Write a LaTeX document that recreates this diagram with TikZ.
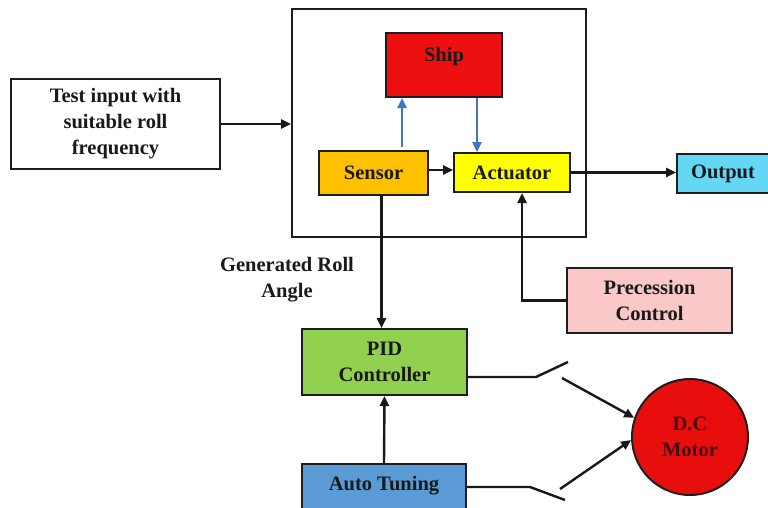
\documentclass[tikz,border=0pt]{standalone}
\usepackage{fontspec}
\setmainfont{Liberation Serif}
\usetikzlibrary{arrows.meta,calc}
\definecolor{shipred}{RGB}{238,16,16}
\definecolor{motorred}{RGB}{232,14,14}
\definecolor{sensorc}{RGB}{255,192,0}
\definecolor{actc}{RGB}{255,255,0}
\definecolor{outc}{RGB}{100,215,245}
\definecolor{precc}{RGB}{250,200,200}
\definecolor{pidc}{RGB}{146,208,80}
\definecolor{autoc}{RGB}{91,155,213}
\definecolor{bluearr}{RGB}{68,114,196}
\definecolor{edgec}{RGB}{30,30,30}
\definecolor{motortext}{RGB}{70,12,12}
\begin{document}
\begin{tikzpicture}[x=1pt,y=-1pt,
  every node/.style={font=\bfseries\fontsize{20.5}{26}\selectfont, text=black!90, align=center},
  box/.style={draw=edgec, line width=2pt, inner sep=0pt},
  conn/.style={draw=black!90, line width=2.4pt, -{Triangle[length=10pt,width=9pt]}},
  plainline/.style={draw=black!90, line width=2.4pt},
  bconn/.style={draw=bluearr, line width=2.4pt, -{Triangle[length=10pt,width=9pt]}}]
\useasboundingbox (0,0) rectangle (768,507);
\fill[white] (0,0) rectangle (768,507);

\node[box, minimum width=294pt, minimum height=228pt] (frame) at (439,123) {};
\node[box, fill=white, minimum width=209pt, minimum height=90pt] (test) at (115.5,124) {Test input with\\suitable roll\\frequency};
\node[box, fill=shipred, minimum width=116pt, minimum height=64pt, text depth=22pt] (ship) at (444,65) {Ship};
\node[box, fill=sensorc, minimum width=109pt, minimum height=44pt] (sensor) at (373.5,173) {Sensor};
\node[box, fill=actc, minimum width=116pt, minimum height=39pt] (act) at (512,172.5) {Actuator};
\node[box, fill=outc, minimum width=92pt, minimum height=39pt] (out) at (723,173.5) {Output};
\node[box, fill=pidc, minimum width=165pt, minimum height=66pt] (pid) at (384.5,362) {PID\\Controller};
\node[box, fill=autoc, minimum width=164pt, minimum height=52pt, text depth=14pt] (auto) at (384,490) {Auto Tuning};
\node[box, fill=precc, minimum width=165pt, minimum height=65pt] (prec) at (649.5,300.5) {Precession\\Control};
\node[box, fill=motorred, circle, minimum size=116pt, text=motortext] (motor) at (690,437) {D.C\\Motor};
\node (gra) at (287,280) {Generated Roll\\Angle};

\draw[conn] (test.east) -- (test.east -| frame.west);
\draw[bconn] ([xshift=28.5pt,yshift=3pt]sensor.north) -- ([xshift=28.5pt]sensor.north |- ship.south);
\draw[bconn] ([xshift=-35pt]act.north |- ship.south) -- ([xshift=-35pt]act.north);
\draw[conn] ([yshift=3pt]sensor.east) -- ([yshift=3pt]sensor.east -| act.west);
\draw[conn] (act.east) -- (act.east -| out.west);
\draw[conn] ([xshift=8pt]sensor.south) -- ([xshift=8pt]sensor.south |- pid.north);
\draw[conn] (auto.north) -- (pid.south);
\draw[conn] (prec.west) -| ([xshift=10pt]act.south);

\coordinate (s1a) at (536,377);
\coordinate (s1b) at (568,362);
\coordinate (s1c) at (562,378);
\draw[plainline] (pid.east |- s1a) -- (s1a) -- (s1b);
\draw[conn] (s1c) -- (motor.161);

\coordinate (s2a) at (530,487);
\coordinate (s2b) at (565,500);
\coordinate (s2c) at (560,489);
\draw[plainline] (auto.east |- s2a) -- (s2a) -- (s2b);
\draw[conn] (s2c) -- (motor.183);
\end{tikzpicture}
\end{document}
